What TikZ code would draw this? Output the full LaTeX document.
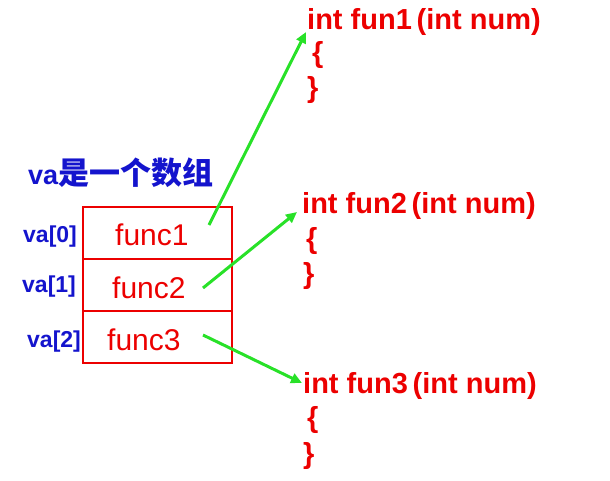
\documentclass[tikz,border=0pt]{standalone}
\usepackage{fontspec}
\setmainfont{Liberation Sans}
\newfontfamily\cjk{Noto Sans CJK SC}
\usepackage{tikz}
\usetikzlibrary{arrows.meta}
\definecolor{FunRed}{RGB}{236,0,0}
\definecolor{VaBlue}{RGB}{20,20,205}
\definecolor{PtrGreen}{RGB}{40,225,40}
\tikzset{
    funtext/.style={anchor=base west, inner sep=0pt, text=FunRed, font=\fontsize{29}{32}\selectfont\bfseries},
    celltext/.style={anchor=base west, inner sep=0pt, text=FunRed, font=\fontsize{30}{32}\selectfont},
    idxtext/.style={anchor=base west, inner sep=0pt, text=VaBlue, font=\fontsize{23}{26}\selectfont\bfseries},
    pointer/.style={line width=3pt, PtrGreen, arrows={-Triangle[length=11pt,width=10pt]}}
}

\begin{document}
\begin{tikzpicture}[x=1pt,y=-1pt]
                    \useasboundingbox (0,0) rectangle (610,481);
%                    array va
                    \node[anchor=base west, inner sep=0pt, text=VaBlue, font=\fontsize{27}{30}\selectfont\bfseries] (title) at (28,185) {va{\cjk\fontsize{31}{33}\selectfont 是一个数组}};
                    \draw[FunRed, line width=1.8pt] (83,207) rectangle (232,363);
                    \draw[FunRed, line width=1.8pt] (83,259) -- (232,259);
                    \draw[FunRed, line width=1.8pt] (83,311) -- (232,311);

                    \node[idxtext] (va0) at (23,242) {va[0]};
                    \node[idxtext] (va1) at (22,292) {va[1]};
                    \node[idxtext] (va2) at (27,347) {va[2]};

                    \node[celltext] (func1) at (115,245) {func1};
                    \node[celltext] (func2) at (112,298) {func2};
                    \node[celltext] (func3) at (107,350) {func3};

%                    functions
                    \node[funtext] (fun1) at (307,30) {int fun1\,(int num)};
                    \node[funtext] (open1) at (312,63) {\{};
                    \node[funtext] (close1) at (307,98) {\}};

                    \node[funtext] (fun2) at (302,213) {int fun2\,(int num)};
                    \node[funtext] (open2) at (306,248) {\{};
                    \node[funtext] (close2) at (303,283) {\}};

                    \node[funtext] (fun3) at (303,393) {int fun3\,(int num)};
                    \node[funtext] (open3) at (307,427) {\{};
                    \node[funtext] (close3) at (303,463) {\}};

%                    pointers
                    \coordinate (p1) at (209,225);
                    \coordinate (p2) at (203,288);
                    \coordinate (p3) at (203,335);
                    \draw[pointer] (p1) -- ([shift={(-1,2)}]fun1.base west);
                    \draw[pointer] (p2) -- ([shift={(-5,-1)}]fun2.base west);
                    \draw[pointer] (p3) -- ([shift={(-1,-10)}]fun3.base west);
                \end{tikzpicture}
\end{document}
